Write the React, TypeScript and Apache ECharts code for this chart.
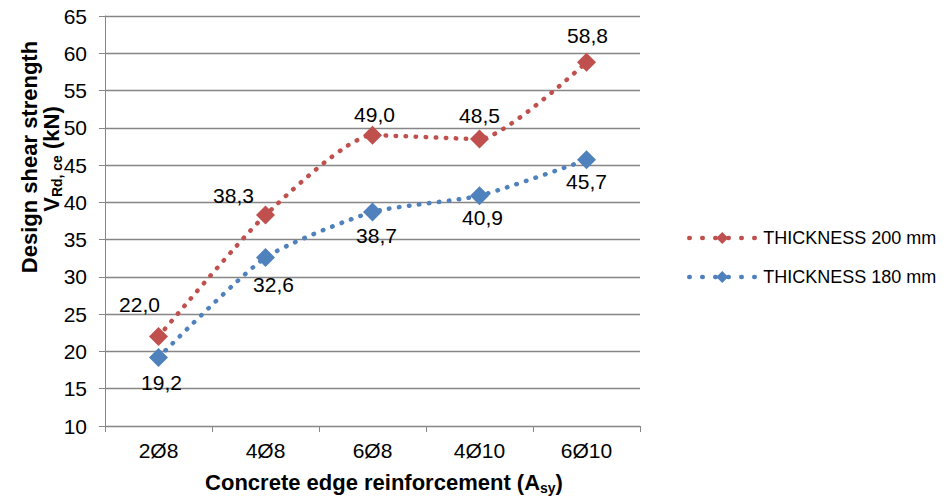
import React, { useEffect, useRef } from "react";
import * as echarts from "echarts";

// Reinforcement layouts along the slab edge
const categories = ["2Ø8", "4Ø8", "6Ø8", "4Ø10", "6Ø10"];

// Design shear strength V_Rd,ce in kN
const thickness200 = [22.0, 38.3, 49.0, 48.5, 58.8];
const thickness180 = [19.2, 32.6, 38.7, 40.9, 45.7];

const seriesNames = ["THICKNESS 200 mm", "THICKNESS 180 mm"];

// Value axis range
const yMin = 10;
const yMax = 65;
const yStep = 5;

// Where each value label sits relative to its marker [dx, dy]
const labelShift200 = [[-19, -32], [-32, -20], [2, -21], [0, -24], [1, -27]];
const labelShift180 = [[3, 25], [8, 27], [4, 23], [3, 22], [0, 22]];

const FONT = 'Arial, "Liberation Sans", sans-serif';
const RED = "#C0504D";
const BLUE = "#4F81BD";
const GRAY = "#868686";

const fmt = (v: number) => v.toFixed(1).replace(".", ",");

function buildSeries(name: string, values: number[], shifts: number[][], color: string) {
  return {
    name,
    type: "line",
    data: values.map((v, i) => ({ value: v, label: { offset: shifts[i] } })),
    smooth: 0.2,
    symbol: "diamond",
    symbolSize: 19,
    itemStyle: { color },
    lineStyle: { color, width: 4.5, type: [0.5, 9.5], cap: "round" },
    label: {
      show: true,
      position: "inside",
      formatter: (p: any) => fmt(p.value),
      color: "#000",
      fontSize: 21,
      fontFamily: FONT,
      textBorderWidth: 0,
    },
  };
}

const boldText = { fontSize: 22, fontWeight: "bold", fontFamily: FONT, fill: "#000", lineHeight: 24 };
const subText = {
  fontSize: 14,
  fontWeight: "bold",
  fontFamily: FONT,
  fill: "#000",
  lineHeight: 13,
  padding: [11, 0, 0, 0],
  verticalAlign: "top",
};

export default function App() {
  const ref = useRef<HTMLDivElement>(null);

  useEffect(() => {
    if (!ref.current) return;
    const chart = echarts.init(ref.current, null, { renderer: "svg" });
    chart.setOption({
      animation: false,
      backgroundColor: "#fff",
      textStyle: { fontFamily: FONT },
      grid: { left: 105, right: 307, top: 16, bottom: 73, containLabel: false },
      legend: {
        orient: "vertical",
        left: 682,
        top: 224,
        itemWidth: 66,
        itemHeight: 15,
        itemGap: 21,
        data: seriesNames,
        lineStyle: { width: 4.5, type: [0.5, 12.5], cap: "round" },
        textStyle: { fontSize: 18, color: "#000", fontFamily: FONT, padding: [0, 0, 0, 3] },
      },
      xAxis: {
        type: "category",
        data: categories,
        boundaryGap: true,
        axisLine: { lineStyle: { color: GRAY, width: 1 } },
        axisTick: { show: true, alignWithLabel: false, length: 6, lineStyle: { color: GRAY } },
        axisLabel: { fontSize: 21, color: "#000", margin: 14, fontFamily: FONT },
        splitLine: { show: false },
      },
      yAxis: {
        type: "value",
        min: yMin,
        max: yMax,
        interval: yStep,
        axisLine: { show: true, lineStyle: { color: GRAY, width: 1 } },
        axisTick: { show: true, length: 6, lineStyle: { color: GRAY } },
        axisLabel: { fontSize: 21, color: "#000", margin: 18, fontFamily: FONT },
        splitLine: { show: true, lineStyle: { color: GRAY, width: 1.3 } },
      },
      graphic: [
        {
          type: "text",
          x: 29,
          y: 157,
          rotation: Math.PI / 2,
          style: {
            text: "{b|Design shear strength}",
            align: "center",
            verticalAlign: "middle",
            rich: { b: boldText },
          },
        },
        {
          type: "text",
          x: 51,
          y: 159,
          rotation: Math.PI / 2,
          style: {
            text: "{b|V}{s|Rd, ce}{b| (kN)}",
            align: "center",
            verticalAlign: "middle",
            rich: { b: boldText, s: subText },
          },
        },
        {
          type: "text",
          x: 384,
          y: 482,
          style: {
            text: "{b|Concrete edge reinforcement (A}{s|sy}{b|)}",
            align: "center",
            verticalAlign: "middle",
            rich: { b: boldText, s: subText },
          },
        },
      ],
      series: [
        buildSeries(seriesNames[0], thickness200, labelShift200, RED),
        buildSeries(seriesNames[1], thickness180, labelShift180, BLUE),
      ],
    });
    return () => chart.dispose();
  }, []);

  return (
    <div
      ref={ref}
      style={{ position: "fixed", left: 0, top: 0, width: 947, height: 499, background: "#fff" }}
    />
  );
}
